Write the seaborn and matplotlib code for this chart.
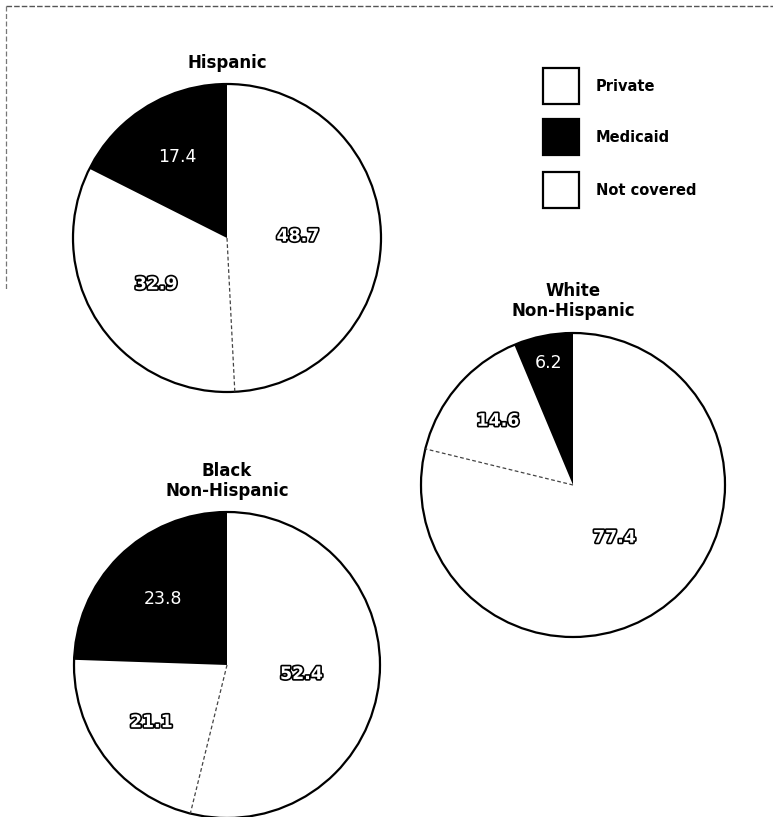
import numpy as np
import matplotlib
matplotlib.use("Agg")
import matplotlib.pyplot as plt
import matplotlib.patheffects as pe
from matplotlib.patches import Circle, Rectangle
import seaborn as sns

# data
categories = ["Private", "Not covered", "Medicaid"]
groups = ["Hispanic", "White\nNon-Hispanic", "Black\nNon-Hispanic"]
hispanic = [48.7, 32.9, 17.4]
white_nh = [77.4, 14.6, 6.2]
black_nh = [52.4, 21.1, 23.8]
legend_order = ["Private", "Medicaid", "Not covered"]

sns.set_theme(style="white")
plt.rcParams['font.family'] = ['DejaVu Sans']

W, H = 773, 817
fig = plt.figure(figsize=(W / 100, H / 100), dpi=100)
ax = fig.add_axes([0, 0, 1, 1])
ax.set_xlim(0, W)
ax.set_ylim(0, H)
ax.set_aspect("equal")
ax.axis("off")

colors = {"Private": "white", "Not covered": "white", "Medicaid": "black"}

# layout (pixel coords, y measured from top)
layout = [
    dict(cx=227, cy=238, r=154, title_y=63, lab=[0.46, 0.55, 0.62]),
    dict(cx=573, cy=485, r=152, title_y=301, lab=[0.44, 0.65, 0.82]),
    dict(cx=227, cy=665, r=153, title_y=481, lab=[0.49, 0.62, 0.60]),
]
series = [hispanic, white_nh, black_nh]

outline = [pe.withStroke(linewidth=2.4, foreground="black")]

for vals, name, lo in zip(series, groups, layout):
    cx, cy, r = lo["cx"], H - lo["cy"], lo["r"]
    wedges, _ = ax.pie(vals, colors=[colors[c] for c in categories],
                       startangle=90, counterclock=False,
                       center=(cx, cy), radius=r, frame=True,
                       wedgeprops=dict(edgecolor="none", linewidth=0))
    ax.add_patch(Circle((cx, cy), r, fill=False, edgecolor="black", lw=1.6, zorder=3))
    # dashed border between the two white slices
    t = np.deg2rad(wedges[0].theta1)
    ax.plot([cx, cx + r * np.cos(t)], [cy, cy + r * np.sin(t)],
            color="#444444", lw=0.9, ls=(0, (3, 2)), zorder=3)
    for w, v, cat, f in zip(wedges, vals, categories, lo["lab"]):
        mid = np.deg2rad((w.theta1 + w.theta2) / 2)
        x, y = cx + f * r * np.cos(mid), cy + f * r * np.sin(mid)
        if cat == "Medicaid":
            ax.text(x, y, f"{v:.1f}", color="white", fontsize=12.5, ha="center",
                    va="center", zorder=4)
        else:
            ax.text(x, y, f"{v:.1f}", color="white", fontsize=12.5, fontweight="bold",
                    ha="center", va="center", path_effects=outline, zorder=4)
    ax.text(cx, H - lo["title_y"], name, ha="center", va="center", fontsize=12,
            fontweight="bold", linespacing=1.1, color="black")

# legend
box_y = [86, 137, 190]
for cat, by in zip(legend_order, box_y):
    ax.add_patch(Rectangle((543, H - by - 18), 36, 36, facecolor=colors[cat],
                           edgecolor="black", lw=1.6))
    ax.text(596, H - by, cat, ha="left", va="center", fontsize=10.5,
            fontweight="bold", color="black")

# scanned frame edges
ax.plot([6, W], [H - 6, H - 6], color="#555555", lw=1.0, ls=(0, (4, 1.5)))
ax.plot([6, 6], [H - 6, H - 290], color="#777777", lw=0.9, ls=(0, (4, 2)))

fig.savefig("out.png", dpi=100, facecolor="white")
